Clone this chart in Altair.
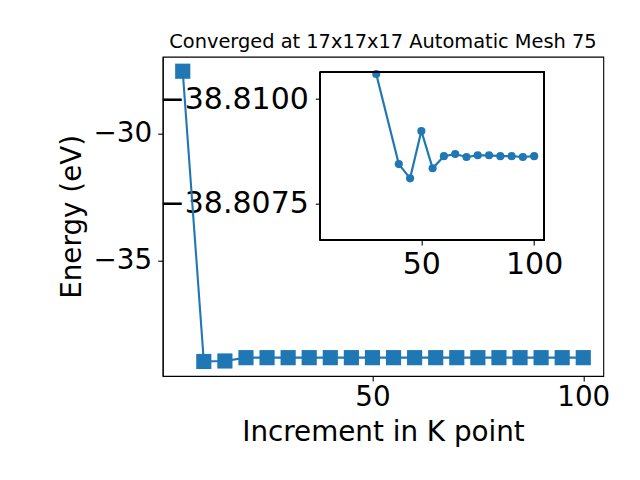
import altair as alt
import pandas as pd

# ---- data ----
kpoints = [5, 10, 15, 20, 25, 30, 35, 40, 45, 50, 55, 60, 65, 70, 75, 80, 85, 90, 95, 100]
energies = [-27.56, -38.94, -38.92, -38.79, -38.79, -38.79, -38.79, -38.79, -38.79, -38.79,
            -38.79, -38.79, -38.79, -38.79, -38.79, -38.79, -38.79, -38.79, -38.79, -38.79]

inset_kpoints = [30, 40, 45, 50, 55, 60, 65, 70, 75, 80, 85, 90, 95, 100]
inset_energies = [-38.8106, -38.80845, -38.80811, -38.80924, -38.80835, -38.80864, -38.80869,
                  -38.80862, -38.80866, -38.80866, -38.80864, -38.80864, -38.80862, -38.80864]

main_xticks = [50, 100]
main_yticks = [-30, -35]
inset_xticks = [50, 100]
inset_yticks = [-38.8100, -38.8075]

title_text = "Converged at 17x17x17 Automatic Mesh 75"
x_title = "Increment in K point"
y_title = "Energy (eV)"

main_df = pd.DataFrame({"k": kpoints, "E": energies})
inset_df = pd.DataFrame({"k": inset_kpoints, "E": inset_energies})

# ---- layout ----
W, H = 440.6, 319.3
BLUE = "#1f77b4"
FONT = "DejaVu Sans"

main_x_dom = [0.25, 104.75]
main_y_dom = [-39.509, -26.991]
inset_x_dom = [5.2, 104.5]
inset_y_dom = [-38.81064, -38.80664]
inset_x_rng = [157.6, 381.6]
inset_y_rng = [15.6, 183.3]

main_x = alt.X("k:Q",
               scale=alt.Scale(domain=main_x_dom, nice=False, zero=False),
               axis=alt.Axis(values=main_xticks, format="d", title=x_title, orient="bottom",
                             labelFontSize=27.8, labelBaseline="alphabetic", labelPadding=25,
                             tickSize=5, titleFontSize=27.8, titleBaseline="alphabetic",
                             titleY=65, titleX=W / 2))
main_y = alt.Y("E:Q",
               scale=alt.Scale(domain=main_y_dom, nice=False, zero=False),
               axis=alt.Axis(values=main_yticks, format="d", title=y_title, orient="left",
                             labelFontSize=27.8, labelPadding=6, tickSize=5,
                             titleFontSize=27.8, titleBaseline="alphabetic", titleAngle=-90,
                             titleX=-82.2, titleY=H / 2))

main_base = alt.Chart(main_df).encode(x=main_x, y=main_y)
main_line = main_base.mark_line(color=BLUE, strokeWidth=2.1)
main_pts = main_base.mark_point(shape="square", filled=True, size=230, opacity=1, color=BLUE)
main_layer = alt.layer(main_line, main_pts)

inset_xs = alt.Scale(domain=inset_x_dom, range=inset_x_rng, nice=False, zero=False)
inset_ys = alt.Scale(domain=inset_y_dom, range=inset_y_rng, nice=False, zero=False)


def inset_x_axis():
    return alt.Axis(values=inset_xticks, format="d", title=None, orient="bottom",
                    offset=inset_y_rng[1] - H, labelFontSize=30,
                    labelBaseline="alphabetic", labelPadding=28.3, tickSize=5, domain=False)


def inset_y_axis():
    return alt.Axis(values=inset_yticks, format=".4f", title=None, orient="left",
                    offset=-inset_x_rng[0], labelFontSize=30, labelPadding=7,
                    tickSize=5, domain=False)


inset_frame = alt.Chart(inset_df).mark_rect(fill=None, stroke="black", strokeWidth=1.1).encode(
    x=alt.X(datum=inset_x_dom[0], type="quantitative", scale=inset_xs, axis=inset_x_axis()),
    x2=alt.X2(datum=inset_x_dom[1]),
    y=alt.Y(datum=inset_y_dom[0], type="quantitative", scale=inset_ys, axis=inset_y_axis()),
    y2=alt.Y2(datum=inset_y_dom[1]),
)
inset_base = alt.Chart(inset_df).encode(
    x=alt.X("k:Q", scale=inset_xs, axis=inset_x_axis()),
    y=alt.Y("E:Q", scale=inset_ys, axis=inset_y_axis()),
)
inset_line = inset_base.mark_line(color=BLUE, strokeWidth=2.2)
inset_pts = inset_base.mark_point(shape="circle", filled=True, size=66, opacity=1, color=BLUE)
inset_layer = alt.layer(inset_line, inset_pts, inset_frame)

chart = alt.layer(main_layer, inset_layer).resolve_scale(
    x="independent", y="independent"
).properties(
    width=W, height=H,
    background="white",
    title=alt.TitleParams(text=title_text, fontSize=19.4, font=FONT, fontWeight="normal",
                          anchor="middle", baseline="alphabetic", offset=9.2, color="black",
                          frame="group", dy=20),
    autosize=alt.AutoSizeParams(type="none"),
    padding={"left": 154.7, "top": 48.7, "right": 20, "bottom": 80},
).configure_view(
    stroke="black", strokeWidth=1.1
).configure_axis(
    grid=False, labelFont=FONT, titleFont=FONT, labelColor="black", titleColor="black",
    tickColor="black", domainColor="black", tickWidth=1.1, domainWidth=1.1,
    titleFontWeight="normal", labelFlush=False, labelOverlap=False
)

chart.save("out.html", embed_options={"renderer": "svg", "actions": False})
